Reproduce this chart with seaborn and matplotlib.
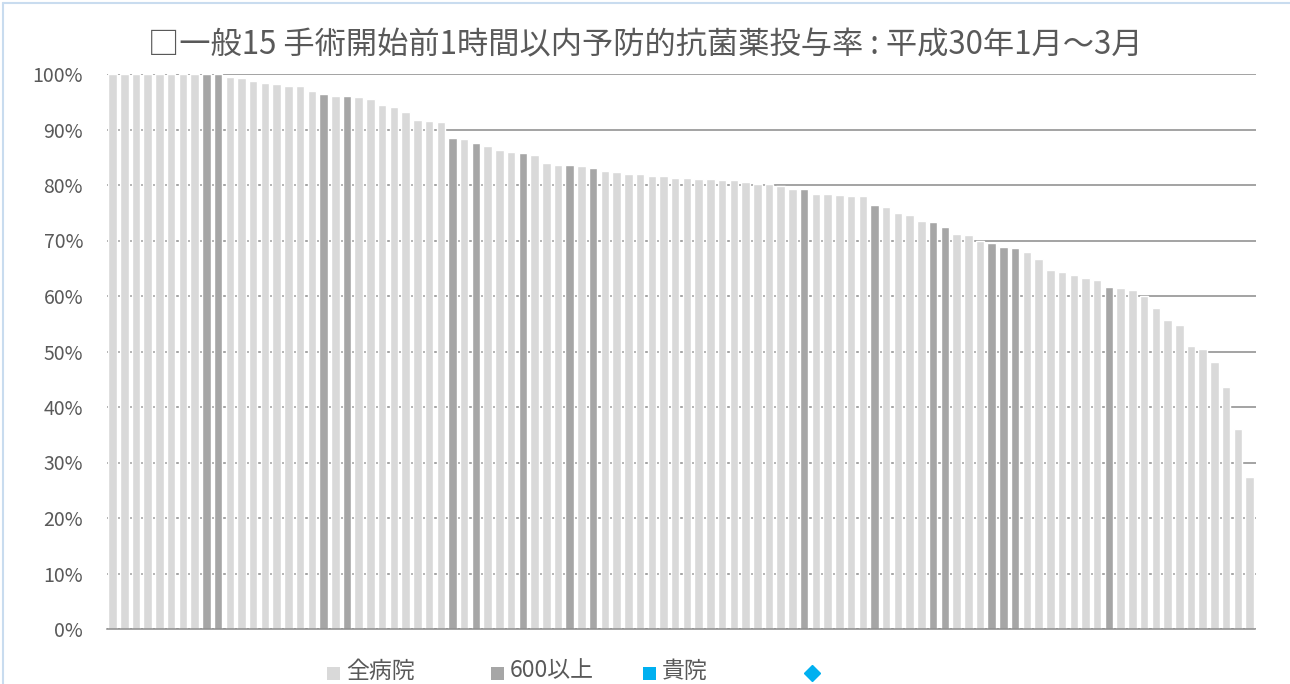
import matplotlib
matplotlib.use("Agg")
import matplotlib.pyplot as plt
import matplotlib.patches as mpatches
from matplotlib.lines import Line2D
import seaborn as sns
import pandas as pd

# ---- data -------------------------------------------------------------
rates = [100, 100, 100, 100, 100, 100, 100, 100, 100, 100,
         99.4, 99.3, 98.8, 98.4, 98.2, 97.8, 97.8, 97.0, 96.4, 96.1,
         96.0, 95.9, 95.5, 94.4, 94.1, 93.2, 91.7, 91.5, 91.4, 88.4,
         88.3, 87.5, 87.1, 86.3, 85.9, 85.8, 85.4, 84.0, 83.6, 83.6,
         83.4, 83.0, 82.6, 82.3, 82.0, 81.9, 81.6, 81.6, 81.3, 81.2,
         81.1, 81.0, 80.9, 80.9, 80.5, 80.2, 80.1, 79.8, 79.3, 79.3,
         78.4, 78.4, 78.2, 78.0, 78.0, 76.4, 76.1, 75.0, 74.6, 73.5,
         73.4, 72.5, 71.2, 71.0, 70.0, 69.6, 68.8, 68.6, 68.0, 66.6,
         64.7, 64.3, 63.8, 63.3, 62.8, 61.7, 61.4, 61.1, 60.0, 57.9,
         55.7, 54.8, 51.0, 50.5, 48.1, 43.6, 36.1, 27.4]
large_idx = [8, 9, 18, 20, 29, 31, 35, 39, 41, 59, 65, 70, 71, 75, 76, 77, 85]
group_names = ["全病院", "600以上", "貴院"]
yticks = list(range(0, 101, 10))
title = "□一般15 手術開始前1時間以内予防的抗菌薬投与率 : 平成30年1月～3月"

colors = {"全病院": "#D9D9D9", "600以上": "#A6A6A6", "貴院": "#00B0F0"}
txt_color = "#595959"
grid_color = "#8A8A8A"

hosp = [f"h{i:03d}" for i in range(len(rates))]
groups = ["600以上" if i in large_idx else "全病院" for i in range(len(rates))]
df = pd.DataFrame({"hosp": hosp, "rate": rates, "group": groups})

# ---- figure -----------------------------------------------------------
sns.set_style("white")
plt.rcParams["font.family"] = ["Noto Sans CJK JP", "DejaVu Sans"]

W, H = 1290, 684
fig = plt.figure(figsize=(W / 100, H / 100), dpi=100)
ax = fig.add_axes([106.7 / W, 1 - 629 / H, (1255.5 - 106.7) / W, (629 - 74) / H])

sns.barplot(data=df, x="hosp", y="rate", hue="group", order=hosp,
            hue_order=["全病院", "600以上"], palette=colors, dodge=False,
            width=0.725, legend=False, ax=ax, saturation=1)

ax.set_xlim(-0.5, len(rates) - 0.5)
ax.set_ylim(0, 100)
ax.set_yticks(yticks)
ax.set_yticklabels([f"{v}%" for v in yticks])
ax.tick_params(axis="y", length=0, pad=17, labelsize=14, labelcolor=txt_color)
ax.set_xticks([])
ax.set_xlabel("")
ax.set_ylabel("")
ax.yaxis.grid(True, color=grid_color, lw=1.1)
ax.set_axisbelow(True)
for s in ["left", "right", "top"]:
    ax.spines[s].set_visible(False)
ax.spines["bottom"].set_color(grid_color)
ax.spines["bottom"].set_linewidth(1.1)

# title
fig.text(0.5, 1 - 45 / H, title, ha="center", va="center",
         fontsize=22.5, color=txt_color)

# legend (manual, Excel-like fixed-width entries)
leg_y = 671
sq = 13
sq_left = [327, 491, 643]
for name, x0 in zip(group_names, sq_left):
    fig.patches.append(mpatches.Rectangle(
        (x0 / W, 1 - (leg_y + 2 + sq / 2) / H), sq / W, sq / H,
        transform=fig.transFigure, facecolor=colors[name], edgecolor="none"))
    fig.text((x0 + sq + 6) / W, 1 - leg_y / H, name, ha="left",
             va="center", fontsize=16.5, color=txt_color)
fig.lines.append(Line2D([812 / W], [1 - (leg_y + 2) / H], marker="D", markersize=8,
                        color="#00B0F0", transform=fig.transFigure, lw=0))

# outer chart border (light blue)
border = "#C9DCEF"
fig.lines.append(Line2D([3 / W, 3 / W], [1 - 3 / H, 0], color=border, lw=1.5,
                        transform=fig.transFigure))
fig.lines.append(Line2D([3 / W, 1], [1 - 3 / H, 1 - 3 / H], color=border, lw=1.5,
                        transform=fig.transFigure))

fig.savefig("out.png", dpi=100, facecolor="white")
